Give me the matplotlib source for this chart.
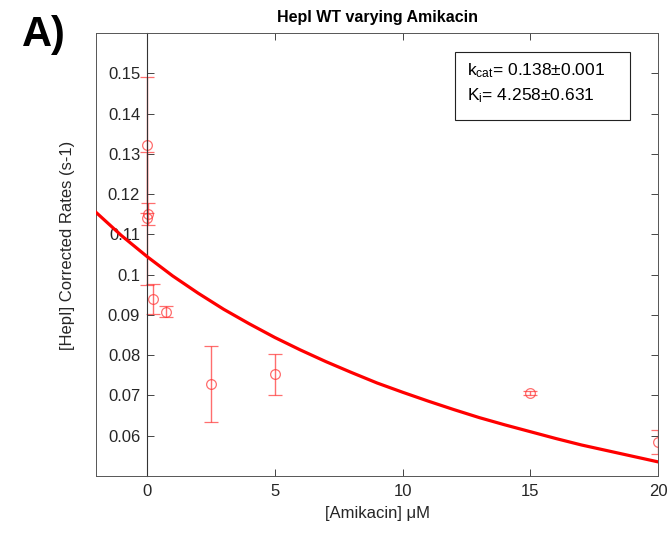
import numpy as np
import matplotlib.pyplot as plt
from matplotlib.lines import Line2D
from matplotlib.patches import Rectangle

plt.rcParams['font.family'] = ['Liberation Sans', 'DejaVu Sans']

# Measured rates (mean +/- error)
amikacin = [0, 0, 0.05, 0.25, 0.75, 2.5, 5, 15, 20]
rates = [0.1322, 0.1140, 0.1150, 0.0940, 0.0908, 0.0729, 0.0753, 0.0706, 0.0585]
errors = [0.0170, 0.0165, 0.0027, 0.0037, 0.0014, 0.0095, 0.0051, 0.0005, 0.0030]

# Fitted curve
fit_x = [-2, -1, 0, 1, 2, 3, 4, 5, 6, 7, 8, 9, 10, 11, 12, 13, 14, 15, 16, 17, 18, 19, 20]
fit_y = [0.1155, 0.1097, 0.1045, 0.0997, 0.0954, 0.0914, 0.0878, 0.0844, 0.0813,
         0.0784, 0.0757, 0.0731, 0.0708, 0.0686, 0.0665, 0.0645, 0.0627, 0.0610,
         0.0593, 0.0577, 0.0563, 0.0549, 0.0535]

y_ticks = [0.06, 0.07, 0.08, 0.09, 0.1, 0.11, 0.12, 0.13, 0.14, 0.15]
y_labels = ["0.06", "0.07", "0.08", "0.09", "0.1", "0.11", "0.12", "0.13", "0.14", "0.15"]
x_ticks = [0, 5, 10, 15, 20]

fig = plt.figure(figsize=(6.71, 5.34), dpi=100)
ax = fig.add_axes([0.143, 0.1086, 0.838, 0.8294])

ax.errorbar(amikacin, rates, yerr=errors, fmt='o', color='#ff3030', alpha=0.7,
            mfc='none', ms=7, mew=0.9, elinewidth=1.0, capsize=5, capthick=1.0, zorder=2)

ax.plot(fit_x, fit_y, color='#ff0000', lw=2.3, zorder=3)

ax.set_xlim(-2, 20)
ax.set_ylim(0.05, 0.16)
ax.set_xticks(x_ticks)
ax.set_yticks(y_ticks)
ax.set_yticklabels(y_labels)

# y axis sits at x = 0 (MATLAB "origin" style), box kept around the axes
ax.spines['left'].set_position(('data', 0))
ax.spines['left'].set_color('#333333')
ax.spines['left'].set_linewidth(0.8)
for side in ['top', 'right', 'bottom']:
    ax.spines[side].set_color('#555555')
    ax.spines[side].set_linewidth(0.7)
ax.add_line(Line2D([0, 0], [0, 1], transform=ax.transAxes, color='#555555',
                   lw=0.7, clip_on=False))

ax.tick_params(direction='in', top=True, right=True, labelsize=12,
               colors='#262626', length=5, width=0.6)
ax.tick_params(axis='x', pad=6)
ax.tick_params(axis='y', pad=5)

ax.set_xlabel("[Amikacin] μM", fontsize=12, color='#262626')
ax.set_ylabel("[HepI] Corrected Rates (s-1)", fontsize=12, color='#262626')
ax.xaxis.set_label_coords(0.5, -0.068)
ax.yaxis.set_label_coords(-0.037, 0.52)
ax.set_title("HepI WT varying Amikacin", fontsize=11.5, fontweight='bold', pad=8)

ax.add_patch(Rectangle((0.639, 0.804), 0.311, 0.153, transform=ax.transAxes,
                       fc='white', ec='#222222', lw=0.8, zorder=5))
ax.text(0.66, 0.905, "$\\mathregular{k_{cat}}$= 0.138±0.001", transform=ax.transAxes,
        fontsize=12.5, va='baseline', ha='left', zorder=6)
ax.text(0.66, 0.849, "$\\mathregular{K_{i}}$= 4.258±0.631", transform=ax.transAxes,
        fontsize=12.5, va='baseline', ha='left', zorder=6)

fig.text(0.032, 0.934, "A)", fontsize=30, fontweight='bold', va='center', ha='left')

plt.savefig("out.png", dpi=100)
